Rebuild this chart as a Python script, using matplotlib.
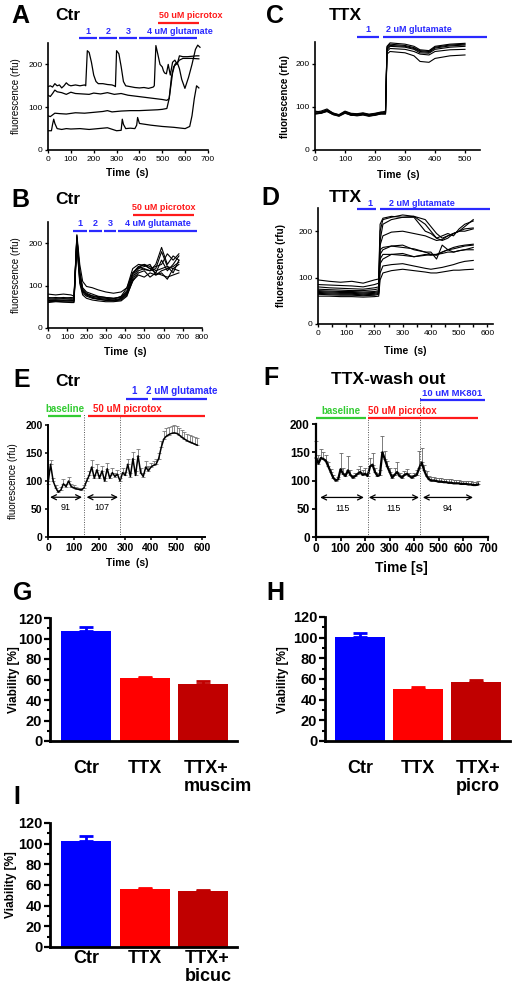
import numpy as np
import matplotlib
matplotlib.use("Agg")
import matplotlib.pyplot as plt
import matplotlib.transforms as mtransforms

plt.rcParams["font.family"] = ["Liberation Sans", "DejaVu Sans"]

# ======================= DATA =======================
# ---- Panel A (Ctr): four single-cell traces ----
A1_t = [0, 10, 20, 30, 40, 50, 60, 70, 80, 90, 100, 120, 140, 160, 165, 172, 180, 190, 200, 210, 220, 240, 260,
        280, 290, 295, 300, 310, 320, 330, 340, 360, 380, 400, 420, 440, 460, 465, 472, 480, 490, 500, 505, 510,
        518, 526, 535, 545, 555, 565, 575, 590, 610, 630, 650, 660]
A1_v = [148, 150, 147, 155, 150, 152, 145, 150, 157, 152, 150, 152, 150, 152, 150, 232, 228, 205, 175, 160, 155,
        155, 153, 152, 150, 148, 232, 225, 195, 160, 150, 148, 146, 145, 146, 144, 147, 150, 244, 225, 200, 194,
        185, 180, 178, 200, 175, 205, 210, 200, 220, 218, 218, 219, 220, 220]
A2_t = [0, 10, 20, 30, 40, 60, 80, 100, 120, 150, 180, 200, 230, 260, 290, 320, 350, 380, 410, 440, 470, 500, 520,
        530, 545, 555, 565, 575, 585, 599, 615, 630, 645, 655, 665]
A2_v = [128, 125, 132, 140, 136, 134, 130, 135, 132, 131, 130, 133, 131, 134, 130, 132, 128, 126, 124, 122, 120,
        118, 116, 120, 180, 200, 205, 190, 165, 144, 170, 200, 235, 245, 240]
A3_t = [0, 10, 20, 30, 50, 80, 120, 160, 200, 240, 260, 280, 320, 360, 400, 440, 480, 500, 520, 530, 540, 550, 560,
        575, 590, 610, 630, 660]
A3_v = [80, 78, 82, 86, 85, 84, 87, 86, 88, 90, 92, 89, 91, 92, 92, 93, 94, 95, 97, 120, 170, 195, 200, 210, 214,
        214, 214, 213]
A4_t = [0, 15, 20, 25, 30, 40, 60, 80, 100, 140, 180, 220, 260, 300, 320, 325, 330, 340, 360, 380, 388, 392, 400,
        450, 500, 550, 600, 620, 630, 640, 650, 660]
A4_v = [45, 45, 60, 72, 62, 50, 48, 50, 49, 50, 48, 50, 52, 45, 46, 72, 60, 50, 51, 50, 58, 76, 62, 58, 55, 53, 50,
        55, 80, 120, 150, 145]
A_blue_spans = [(136, 214), (223, 302), (311, 389), (398, 652)]
A_blue_labels = ["1", "2", "3", "4 uM glutamate"]
A_red_span = (481, 660)
A_red_label = "50 uM picrotox"

# ---- Panel B (Ctr): population traces ----
B_t = [0, 40, 80, 120, 135, 150, 165, 180, 200, 230, 260, 300, 340, 380, 410, 440, 470, 500, 530, 560, 590, 620,
       650, 680]
B1 = [80, 78, 80, 78, 75, 220, 150, 110, 98, 95, 90, 85, 82, 85, 95, 130, 145, 150, 140, 130, 160, 135, 150, 170]
B2 = [70, 72, 70, 72, 70, 215, 130, 95, 85, 80, 75, 72, 70, 72, 85, 120, 140, 145, 150, 125, 135, 140, 145, 155]
B3 = [65, 65, 66, 65, 65, 210, 120, 88, 78, 72, 70, 68, 66, 70, 80, 115, 135, 140, 135, 150, 190, 150, 170, 160]
B4 = [62, 63, 62, 62, 62, 205, 115, 82, 75, 70, 68, 65, 64, 66, 78, 110, 130, 135, 120, 130, 125, 120, 125, 130]
B5 = [68, 68, 69, 68, 68, 200, 110, 85, 80, 75, 72, 70, 68, 75, 95, 140, 150, 148, 140, 145, 150, 175, 160, 175]
B6 = [65, 66, 65, 66, 65, 218, 125, 90, 78, 72, 68, 66, 65, 68, 82, 125, 145, 138, 135, 140, 180, 145, 140, 150]
B7 = [60, 62, 61, 60, 60, 195, 105, 78, 70, 66, 64, 62, 62, 64, 75, 112, 125, 120, 130, 125, 130, 115, 140, 135]
B8 = [72, 70, 72, 70, 72, 212, 135, 92, 82, 76, 74, 72, 70, 73, 88, 130, 142, 150, 145, 135, 140, 145, 130, 160]
B_blue_spans = [(130, 203), (213, 280), (291, 353), (364, 774)]
B_blue_labels = ["1", "2", "3", "4 uM glutamate"]
B_red_span = (442, 758)
B_red_label = "50 uM picrotox"

# ---- Panel C (TTX) ----
C_t = [0, 20, 40, 60, 80, 100, 120, 140, 160, 180, 200, 220, 235, 240, 250, 300, 330, 350, 380, 400, 450, 500]
C1 = [88, 90, 95, 85, 82, 90, 85, 84, 86, 83, 85, 88, 87, 240, 248, 245, 240, 232, 230, 240, 245, 247]
C2 = [85, 87, 92, 83, 80, 88, 82, 82, 84, 80, 82, 86, 85, 238, 245, 242, 237, 230, 228, 238, 243, 245]
C3 = [83, 85, 90, 82, 79, 86, 80, 80, 82, 79, 80, 84, 84, 235, 242, 240, 235, 228, 226, 236, 241, 243]
C4 = [90, 88, 93, 86, 81, 89, 84, 83, 85, 82, 84, 87, 90, 232, 240, 238, 233, 225, 224, 233, 238, 240]
C5 = [86, 86, 91, 84, 80, 87, 83, 81, 83, 81, 83, 85, 86, 228, 235, 233, 228, 222, 220, 228, 232, 233]
C6 = [84, 85, 89, 82, 78, 85, 81, 79, 81, 78, 81, 83, 83, 222, 228, 225, 218, 205, 203, 212, 218, 220]
C_blue_spans = [(140, 213), (227, 573)]
C_blue_labels = ["1", "2 uM glutamate"]

# ---- Panel D (TTX) ----
D_t = [0, 40, 80, 120, 160, 200, 215, 220, 230, 260, 300, 340, 380, 400, 420, 440, 460, 480, 500, 520, 550]
D1 = [95, 92, 90, 92, 88, 95, 97, 215, 228, 232, 230, 232, 225, 210, 195, 185, 190, 195, 200, 210, 225]
D2 = [85, 84, 83, 82, 80, 85, 88, 200, 225, 230, 235, 232, 215, 200, 185, 190, 195, 190, 205, 215, 222]
D3 = [80, 78, 77, 76, 75, 78, 80, 180, 215, 225, 230, 230, 200, 195, 185, 180, 185, 195, 200, 200, 205]
D4 = [75, 74, 73, 72, 72, 74, 76, 170, 190, 198, 200, 195, 190, 185, 180, 182, 190, 195, 200, 205, 207]
D5 = [72, 71, 70, 70, 69, 70, 72, 160, 165, 168, 170, 160, 155, 150, 148, 155, 160, 162, 165, 168, 170]
D6 = [70, 69, 68, 68, 67, 68, 70, 150, 160, 168, 165, 162, 155, 155, 140, 170, 160, 155, 158, 160, 165]
D7 = [68, 67, 66, 66, 65, 66, 68, 140, 150, 150, 148, 145, 148, 150, 150, 155, 160, 165, 168, 170, 172]
D8 = [66, 65, 64, 64, 63, 64, 66, 130, 140, 150, 152, 145, 150, 148, 150, 152, 155, 155, 158, 160, 160]
D9 = [64, 63, 62, 62, 61, 62, 64, 110, 125, 128, 130, 125, 120, 118, 120, 122, 125, 128, 132, 135, 137]
D10 = [60, 60, 59, 59, 58, 59, 60, 95, 110, 115, 118, 115, 112, 110, 110, 112, 114, 116, 116, 117, 118]
D_blue_spans = [(138, 205), (219, 608)]
D_blue_labels = ["1", "2 uM glutamate"]

# ---- Panel E (Ctr, mean + SEM) ----
E_t = [0, 10, 20, 30, 40, 50, 60, 70, 80, 90, 100, 110, 120, 130, 140, 150, 160, 170, 180, 190, 200, 210, 220,
       230, 240, 250, 260, 270, 280, 290, 300, 310, 320, 330, 340, 350, 360, 370, 380, 390, 400, 410, 420, 430,
       440, 450, 460, 470, 480, 490, 500, 510, 520, 530, 540, 550, 560, 570, 580]
E_mean = [95, 130, 100, 88, 80, 84, 95, 90, 100, 90, 88, 86, 85, 84, 88, 100, 110, 125, 105, 120, 105, 118, 100,
          122, 105, 115, 108, 112, 100, 115, 110, 130, 108, 140, 110, 145, 115, 108, 125, 118, 125, 128, 130, 140,
          160, 175, 180, 183, 185, 186, 185, 182, 178, 175, 172, 170, 168, 166, 164]
E_sem = [5, 8, 6, 4, 4, 5, 8, 5, 7, 5, 4, 4, 3, 3, 4, 6, 8, 12, 6, 10, 6, 8, 5, 10, 6, 8, 6, 7, 5, 8, 6, 10, 6, 12,
         8, 12, 8, 6, 10, 8, 8, 8, 10, 10, 12, 14, 14, 14, 14, 14, 14, 13, 13, 12, 12, 12, 12, 12, 12]
E_dotted = [140, 280]
E_arrows = [(8, 132), (150, 272)]
E_arrow_labels = ["91", "107"]
E_green_span = (0, 128)
E_red_span = (155, 610)
E_blue_spans = [(302, 387), (403, 616)]
E_blue_labels = ["1", "2 uM glutamate"]

# ---- Panel F (TTX-wash out, mean + SEM) ----
F_t = [0, 10, 20, 30, 40, 50, 60, 70, 80, 90, 100, 110, 120, 130, 140, 150, 160, 170, 180, 190, 200, 210, 220,
       230, 240, 250, 260, 270, 280, 290, 300, 310, 320, 330, 340, 350, 360, 370, 380, 390, 400, 410, 420, 430,
       440, 450, 460, 470, 480, 490, 500, 510, 520, 530, 540, 550, 560, 570, 580, 590, 600, 610, 620, 630, 640,
       650, 660]
F_mean = [140, 130, 140, 138, 135, 125, 115, 105, 100, 102, 120, 112, 108, 118, 110, 105, 108, 112, 115, 110,
          112, 108, 125, 128, 115, 108, 110, 150, 138, 125, 115, 105, 110, 115, 108, 105, 110, 112, 108, 105,
          108, 110, 122, 132, 118, 108, 102, 100, 100, 99, 98, 98, 97, 97, 96, 96, 95, 95, 95, 94, 94, 94, 93,
          93, 92, 92, 93]
F_sem = [30, 15, 15, 12, 10, 8, 6, 4, 3, 4, 28, 10, 6, 25, 8, 5, 5, 8, 10, 8, 10, 6, 15, 20, 8, 6, 8, 28, 15, 10,
         8, 6, 12, 18, 6, 5, 6, 8, 6, 5, 6, 8, 30, 25, 10, 8, 6, 6, 6, 6, 6, 6, 6, 6, 6, 6, 6, 6, 6, 6, 6, 6, 6, 6,
         6, 6, 6]
F_dotted = [210, 425]
F_arrows = [(17, 195), (215, 419), (435, 639)]
F_arrow_labels = ["115", "115", "94"]
F_green_span = (0, 205)
F_red_span = (211, 660)
F_blue_span = (423, 688)

# ---- Panels G, H, I (viability) ----
G_cats = ["Ctr", "TTX", "TTX+\nmuscim"]
G_vals = [107, 61, 56]
G_err = [4, 1, 2.5]
H_cats = ["Ctr", "TTX", "TTX+\npicro"]
H_vals = [101, 50, 57]
H_err = [3.5, 2, 2]
I_cats = ["Ctr", "TTX", "TTX+\nbicuc"]
I_vals = [103, 56, 54]
I_err = [4, 1, 1.5]

# ======================= FIGURE =======================
W, H = 516, 992
fig = plt.figure(figsize=(W / 100, H / 100), dpi=100)

BLUE = "#2a2aff"
RED = "#ff1a1a"
GREEN = "#33cc33"
BAR_COLS = ["#0000ff", "#ff0000", "#c00000"]

ypx_tr = mtransforms.Affine2D().scale(1.0 / W, -1.0 / H).translate(0, 1) + fig.transFigure


def add_ax(l, t, r, b):
    return fig.add_axes([l / W, 1 - b / H, (r - l) / W, (b - t) / H])


def blend(ax, dx=0):
    tr = mtransforms.blended_transform_factory(ax.transData, ypx_tr)
    if dx:
        tr = tr + mtransforms.ScaledTranslation(dx / 100.0, 0, fig.dpi_scale_trans)
    return tr


def hbar(ax, span, ypx, color, lw=1.6):
    ax.plot(span, [ypx, ypx], transform=blend(ax), color=color, lw=lw, clip_on=False,
            solid_capstyle="butt")


def htext(ax, x, ypx, s, color, dx=0, size=6.5):
    ax.text(x, ypx, s, transform=blend(ax, dx), color=color, ha="center", va="center",
            fontsize=size, fontweight="bold", clip_on=False)


def ftext(x, y, s, **kw):
    fig.text(x / W, 1 - y / H, s, **kw)


def style(ax, lw=1.2, size=6, bold=False, ticklen=2.5):
    for sp in ["top", "right"]:
        ax.spines[sp].set_visible(False)
    for sp in ["left", "bottom"]:
        ax.spines[sp].set_linewidth(lw)
    ax.tick_params(direction="out", length=ticklen, width=lw * 0.8, labelsize=size, pad=1.5)
    if bold:
        for lbl in ax.get_xticklabels() + ax.get_yticklabels():
            lbl.set_fontweight("bold")


# ---------- Panel A ----------
axA = add_ax(48, 43, 208, 150)
for t, v in [(A1_t, A1_v), (A2_t, A2_v), (A3_t, A3_v), (A4_t, A4_v)]:
    axA.plot(t, v, color="black", lw=0.9)
axA.set_xlim(0, 700)
axA.set_ylim(0, 250)
axA.set_xticks(range(0, 701, 100))
axA.set_yticks([0, 100, 200])
style(axA)
for sp, lab in zip(A_blue_spans, A_blue_labels):
    hbar(axA, sp, 38, BLUE)
    htext(axA, (sp[0] + sp[1]) / 2, 31, lab, BLUE, dx=12 if len(lab) > 1 else 0)
hbar(axA, A_red_span, 23, RED)
htext(axA, sum(A_red_span) / 2, 15, A_red_label, RED, dx=12)

# ---------- Panel B ----------
axB = add_ax(48, 222, 202, 328)
for v in [B1, B2, B3, B4, B5, B6, B7, B8]:
    axB.plot(B_t, v, color="black", lw=0.8)
axB.set_xlim(0, 800)
axB.set_ylim(0, 250)
axB.set_xticks(range(0, 801, 100))
axB.set_yticks([0, 100, 200])
style(axB)
for sp, lab in zip(B_blue_spans, B_blue_labels):
    hbar(axB, sp, 231, BLUE)
    htext(axB, (sp[0] + sp[1]) / 2, 224, lab, BLUE)
hbar(axB, B_red_span, 215, RED)
htext(axB, sum(B_red_span) / 2, 208, B_red_label, RED)

# ---------- Panel C ----------
axC = add_ax(315, 42, 480, 150)
for v in [C1, C2, C3, C4, C5, C6]:
    axC.plot(C_t, v, color="black", lw=0.8)
axC.set_xlim(0, 550)
axC.set_ylim(0, 250)
axC.set_xticks(range(0, 501, 100))
axC.set_yticks([0, 100, 200])
style(axC)
for sp, lab, dx in zip(C_blue_spans, C_blue_labels, [0, -16]):
    hbar(axC, sp, 37, BLUE)
    htext(axC, (sp[0] + sp[1]) / 2, 30, lab, BLUE, dx=dx)

# ---------- Panel D ----------
axD = add_ax(318, 208, 493, 324)
for v in [D1, D2, D3, D4, D5, D6, D7, D8, D9, D10]:
    axD.plot(D_t, v, color="black", lw=0.8)
axD.set_xlim(0, 620)
axD.set_ylim(0, 250)
axD.set_xticks(range(0, 601, 100))
axD.set_xticks(range(50, 601, 100), minor=True)
axD.set_yticks([0, 100, 200])
style(axD)
axD.tick_params(which="minor", length=2.5, width=1.0)
for sp, lab, dx in zip(D_blue_spans, D_blue_labels, [4, -13]):
    hbar(axD, sp, 209, BLUE)
    htext(axD, (sp[0] + sp[1]) / 2, 203, lab, BLUE, dx=dx)

# ---------- Panel E ----------
axE = add_ax(48, 425, 205, 537)
axE.errorbar(E_t, E_mean, yerr=[np.zeros(len(E_sem)), E_sem], fmt="none", ecolor="#777777",
             elinewidth=0.6, capsize=1.5, capthick=0.6, clip_on=False)
axE.plot(E_t, E_mean, color="black", lw=1.1, clip_on=False)
axE.set_xlim(0, 610)
axE.set_ylim(0, 200)
axE.set_xticks(range(0, 601, 100))
axE.set_yticks([0, 50, 100, 150, 200])
style(axE, lw=1.4, size=7.5, bold=True)
for x in E_dotted:
    axE.plot([x, x], [537, 413], transform=blend(axE), color="#555555", lw=0.7, ls=(0, (1, 1.5)),
             clip_on=False)
for (a, b), lab in zip(E_arrows, E_arrow_labels):
    axE.annotate("", xy=(b, 71), xytext=(a, 71),
                 arrowprops=dict(arrowstyle="<->", color="black", lw=0.9, shrinkA=0, shrinkB=0,
                                 mutation_scale=9))
    axE.text((a + b) / 2, 53, lab, ha="center", va="center", fontsize=6.5)
hbar(axE, E_green_span, 416, GREEN)
htext(axE, sum(E_green_span) / 2, 409, "baseline", GREEN, size=7)
hbar(axE, E_red_span, 416, RED)
htext(axE, sum(E_red_span) / 2, 409, "50 uM picrotox", RED, dx=-19, size=7)
for sp, lab, dx in zip(E_blue_spans, E_blue_labels, [-3, 3]):
    hbar(axE, sp, 399, BLUE)
    htext(axE, (sp[0] + sp[1]) / 2, 391, lab, BLUE, dx=dx, size=7)

# ---------- Panel F ----------
axF = add_ax(316, 424, 488, 537)
axF.errorbar(F_t, F_mean, yerr=[np.zeros(len(F_sem)), F_sem], fmt="none", ecolor="#666666",
             elinewidth=0.6, capsize=1.5, capthick=0.6, clip_on=False)
axF.plot(F_t, F_mean, color="black", lw=1.6, clip_on=False)
axF.set_xlim(0, 700)
axF.set_ylim(0, 200)
axF.set_xticks(range(0, 701, 100))
axF.set_yticks([0, 50, 100, 150, 200])
style(axF, lw=1.6, size=8.5, bold=True, ticklen=3)
for x, top in zip(F_dotted, [415, 397]):
    axF.plot([x, x], [537, top], transform=blend(axF), color="#555555", lw=0.7, ls=(0, (1, 1.5)),
             clip_on=False)
for (a, b), lab in zip(F_arrows, F_arrow_labels):
    axF.annotate("", xy=(b, 70), xytext=(a, 70),
                 arrowprops=dict(arrowstyle="<->", color="black", lw=0.9, shrinkA=0, shrinkB=0,
                                 mutation_scale=9))
    axF.text((a + b) / 2, 50, lab, ha="center", va="center", fontsize=6.5)
hbar(axF, F_green_span, 418, GREEN)
htext(axF, sum(F_green_span) / 2, 411, "baseline", GREEN, size=7)
hbar(axF, F_red_span, 418, RED)
htext(axF, sum(F_red_span) / 2, 411, "50 uM picrotox", RED, dx=-21, size=7)
hbar(axF, F_blue_span, 400, BLUE)
htext(axF, sum(F_blue_span) / 2, 393, "10 uM MK801", BLUE, size=6.8)


# ---------- Bar panels ----------
def bar_panel(rect, cats, vals, errs, xlim, label_top, dxs):
    ax = add_ax(*rect)
    xs = np.arange(len(cats))
    ax.bar(xs, vals, width=0.855, color=BAR_COLS, edgecolor="none")
    for x, v, e, c in zip(xs, vals, errs, BAR_COLS):
        ax.errorbar([x], [v], yerr=[[0], [e]], fmt="none", ecolor=c, elinewidth=2, capsize=5,
                    capthick=2)
    ax.set_xlim(*xlim)
    ax.set_ylim(0, 120)
    ax.set_yticks(range(0, 121, 20))
    ax.set_yticks(range(10, 121, 20), minor=True)
    ax.set_xticks([])
    style(ax, lw=2.0, size=10.5, bold=True, ticklen=4)
    ax.tick_params(which="minor", length=2.5, width=1.5)
    for x, c, dx in zip(xs, cats, dxs):
        ax.text(x, label_top, c, transform=blend(ax, dx), ha="center", va="top", multialignment="left",
                fontsize=13, fontweight="bold", linespacing=1.05, clip_on=False)
    return ax


axG = bar_panel((50, 618, 237, 741), G_cats, G_vals, G_err, (-0.615, 2.58), 760, [0, 0, 15])
axH = bar_panel((325, 617, 510, 741), H_cats, H_vals, H_err, (-0.6, 2.59), 760, [0, 0, 2])
axI = bar_panel((50, 823, 237, 947), I_cats, I_vals, I_err, (-0.615, 2.58), 950, [0, 0, 5])

# ---------- Axis labels ----------
ylab_kw = dict(rotation=90, ha="center", va="center", fontsize=7)
ftext(16, 96, "fluorescence (rfu)", **ylab_kw)
ftext(16, 275, "fluorescence (rfu)", **ylab_kw)
ftext(285, 96, "fluorescence (rfu)", fontweight="bold", **ylab_kw)
ftext(281, 266, "fluorescence (rfu)", fontweight="bold", **ylab_kw)
ftext(13, 481, "fluorescence (rfu)", **ylab_kw)
vk = dict(rotation=90, ha="center", va="center", fontsize=8.5, fontweight="bold")
ftext(14, 680, "Viability [%]", **vk)
ftext(283, 680, "Viability [%]", **vk)
ftext(11, 885, "Viability [%]", **vk)

xl_kw = dict(ha="center", va="center", fontsize=7.5, fontweight="bold")
ftext(127, 173, "Time  (s)", **xl_kw)
ftext(125, 352, "Time  (s)", **xl_kw)
ftext(398, 175, "Time  (s)", **xl_kw)
ftext(405, 351, "Time  (s)", **xl_kw)
ftext(127, 563, "Time  (s)", **xl_kw)
ftext(401, 568, "Time [s]", ha="center", va="center", fontsize=10, fontweight="bold")

# ---------- Panel letters and titles ----------
let_kw = dict(ha="center", va="center", fontsize=18, fontweight="bold")
tit_kw = dict(ha="center", va="center", fontsize=12.5, fontweight="bold")
ftext(20, 16, "A", **let_kw); ftext(68, 15, "Ctr", **tit_kw)
ftext(275, 16, "C", **let_kw); ftext(345, 15, "TTX", **tit_kw)
ftext(20, 200, "B", **let_kw); ftext(68, 199, "Ctr", **tit_kw)
ftext(270, 198, "D", **let_kw); ftext(345, 198, "TTX", **tit_kw)
ftext(22, 380, "E", **let_kw); ftext(68, 381, "Ctr", **tit_kw)
ftext(271, 378, "F", **let_kw); ftext(388, 379, "TTX-wash out", ha="center", va="center", fontsize=12.5,
                                      fontweight="bold")
ftext(23, 593, "G", **let_kw)
ftext(275, 593, "H", **let_kw)
ftext(17, 797, "I", **let_kw)

fig.savefig("out.png", dpi=100)
